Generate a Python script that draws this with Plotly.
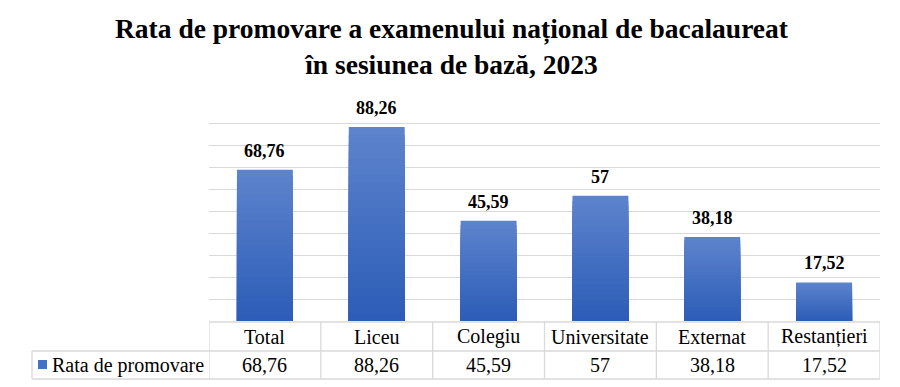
import plotly.graph_objects as go

categories = ["Total", "Liceu", "Colegiu", "Universitate", "Externat", "Restanțieri"]
values = [68.76, 88.26, 45.59, 57, 38.18, 17.52]
series_name = "Rata de promovare"
title_lines = ["Rata de promovare a examenului național de bacalaureat", "în sesiunea de bază, 2023"]

W, H = 900, 387
OFF = 8  # page body margin
FONT = "Liberation Serif"

def px(x):
    return (x - OFF) / W

def py(y):
    return 1 - (y - OFF) / H

def fmt(v):
    return f"{v:g}".replace(".", ",")

def lerp(c1, c2, t):
    return "rgb(%d,%d,%d)" % tuple(round(a + (b - a) * t) for a, b in zip(c1, c2))

top_c = (92, 131, 204)
bot_c = (45, 93, 184)

fig = go.Figure()
N = 24
for k in range(N):
    f = 1 - k / N
    fig.add_trace(go.Bar(
        x=categories, y=[v * f for v in values],
        marker=dict(color=lerp(top_c, bot_c, k / (N - 1)), line=dict(width=0)),
        width=0.5, showlegend=False, hoverinfo="skip",
    ))

x0p, x1p = 209, 880
y0p, y1p = 101, 321
fig.update_layout(
    width=W, height=H, margin=dict(l=0, r=0, t=0, b=0),
    paper_bgcolor="white", plot_bgcolor="white", barmode="overlay",
    xaxis=dict(domain=[px(x0p), px(x1p)], range=[-0.5, len(categories) - 0.5],
               showticklabels=False, showgrid=False, zeroline=False, ticks=""),
    yaxis=dict(domain=[py(y1p), py(y0p)], range=[0, 100.05], dtick=10,
               showticklabels=False, gridcolor="#D9D9D9", gridwidth=1, zeroline=False, ticks=""),
    font=dict(family=FONT, color="black"),
)

# title
fig.add_annotation(text="<b>" + "<br>".join(title_lines) + "</b>", xref="paper", yref="paper",
                   x=px(452), y=py(47), xanchor="center", yanchor="middle", showarrow=False,
                   font=dict(family=FONT, size=27.5, color="black"))

# data labels
for c, v in zip(categories, values):
    fig.add_annotation(text="<b>" + fmt(v) + "</b>", x=c, y=v, xref="x", yref="y",
                       yanchor="bottom", yshift=7, showarrow=False,
                       font=dict(family=FONT, size=18, color="black"))

# table
line = dict(color="#D9D9D9", width=1.3)
row_top, row_mid, row_bot = 322, 351, 379
left_x = 32
n = len(categories)
fig.add_shape(type="line", xref="x", yref="paper", x0=-0.5, x1=n - 0.5, y0=py(row_top), y1=py(row_top), line=line)
fig.add_shape(type="line", xref="paper", yref="paper", x0=px(left_x), x1=px(x1p), y0=py(row_mid), y1=py(row_mid), line=line)
fig.add_shape(type="line", xref="paper", yref="paper", x0=px(left_x), x1=px(x1p), y0=py(row_bot), y1=py(row_bot), line=line)
fig.add_shape(type="line", xref="paper", yref="paper", x0=px(left_x), x1=px(left_x), y0=py(row_mid), y1=py(row_bot), line=line)
for i in range(n + 1):
    fig.add_shape(type="line", xref="x", yref="paper", x0=i - 0.5, x1=i - 0.5,
                  y0=py(row_top), y1=py(row_bot), line=line)

for c, v in zip(categories, values):
    fig.add_annotation(text=c, x=c, xref="x", y=py((row_top + row_mid) / 2), yref="paper",
                       yanchor="middle", showarrow=False, font=dict(family=FONT, size=20, color="black"))
    fig.add_annotation(text=fmt(v), x=c, xref="x", y=py((row_mid + row_bot) / 2), yref="paper",
                       yanchor="middle", showarrow=False, font=dict(family=FONT, size=20, color="black"))

# legend key in table
fig.add_shape(type="rect", xref="paper", yref="paper", x0=px(38), x1=px(47), y0=py(369), y1=py(360),
              fillcolor="rgb(68,114,196)", line=dict(width=0))
fig.add_annotation(text=series_name, xref="paper", yref="paper", x=px(50), y=py((row_mid + row_bot) / 2),
                   xanchor="left", yanchor="middle", showarrow=False,
                   font=dict(family=FONT, size=20, color="black"))

fig.write_html("out.html")
